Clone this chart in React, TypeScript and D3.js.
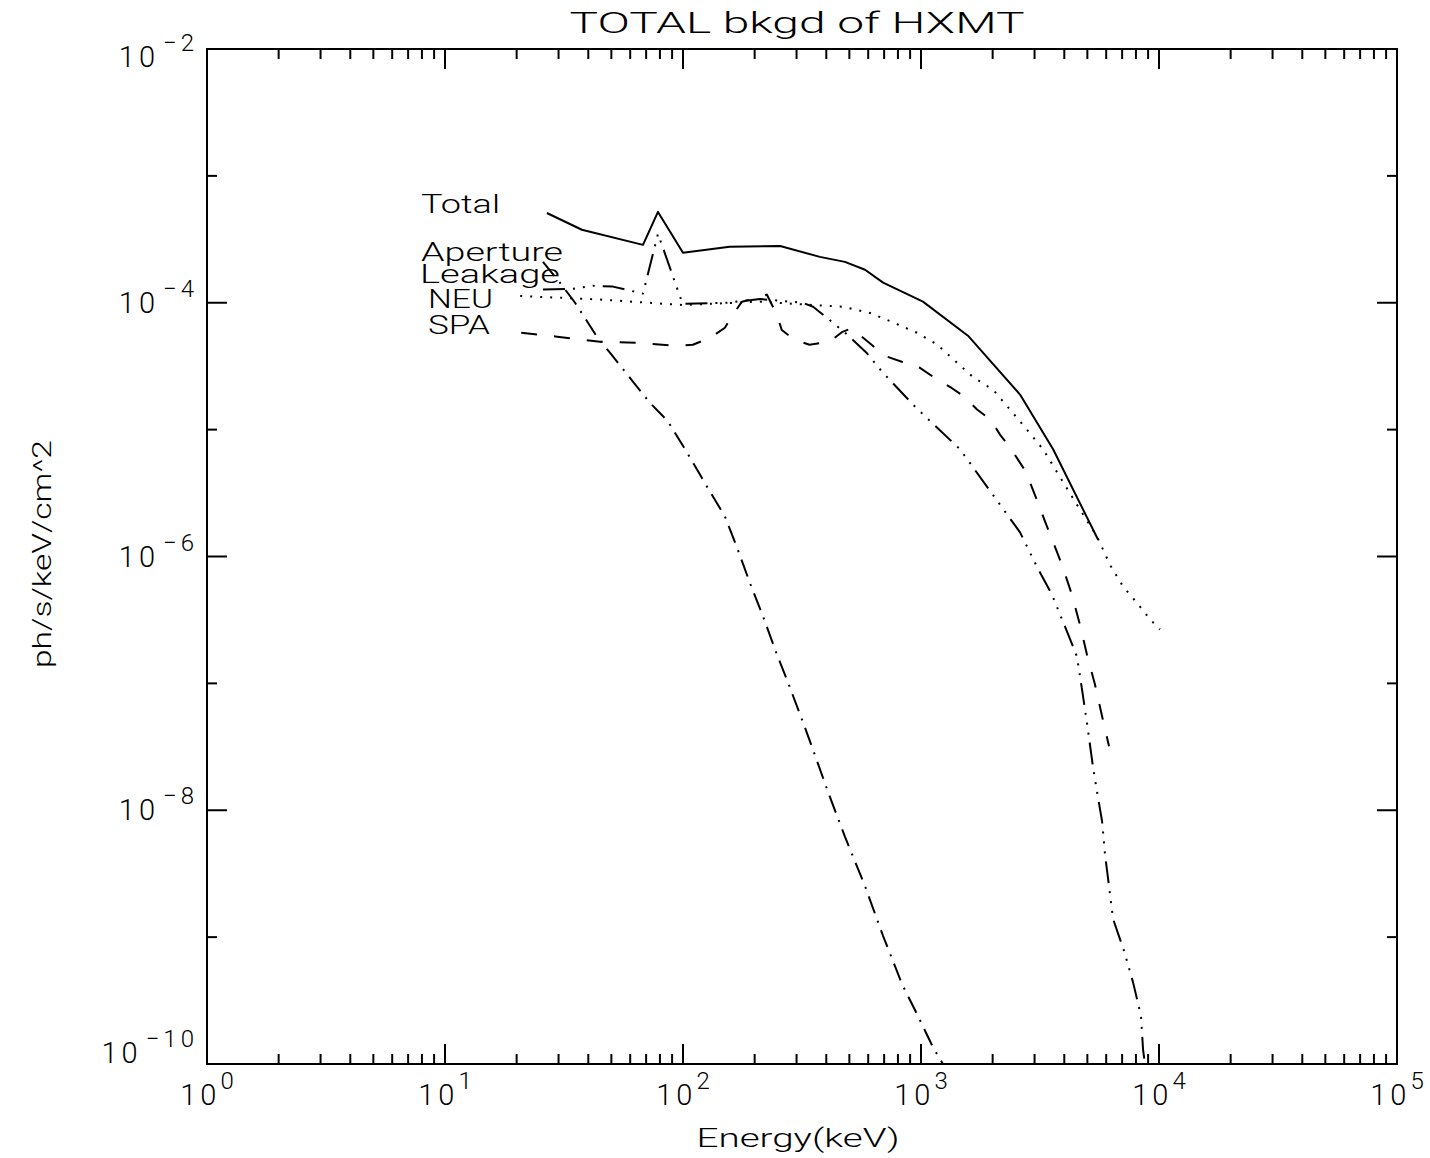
import React from "react";
import * as d3 from "d3";

// ---- data ----
const totalE = [26.8, 37.6, 67.9, 78.5, 100, 157, 256, 376, 479, 582, 693, 1019, 1575, 2607, 3590, 5543];
const totalV = [5.1e-4, 3.76e-4, 2.86e-4, 5.2e-4, 2.48e-4, 2.76e-4, 2.8e-4, 2.3e-4, 2.1e-4, 1.82e-4, 1.44e-4, 1.02e-4, 5.5e-5, 1.89e-5, 7.0e-6, 1.36e-6];

const apertureE = [25.8, 30.4, 35.2, 43.5, 49.3, 61.6, 72.6, 86.5, 104, 126, 150, 170, 191, 217, 248, 276, 316, 349, 407, 479, 582, 693, 832, 971, 1122, 1236];
const apertureV = [2.1e-4, 1.44e-4, 1.0e-4, 5.4e-5, 4.04e-5, 2.39e-5, 1.63e-5, 1.16e-5, 6.6e-6, 3.56e-6, 2.07e-6, 1.13e-6, 6.2e-7, 3.37e-7, 1.69e-7, 1.02e-7, 5.2e-8, 3.13e-8, 1.39e-8, 6.2e-9, 2.52e-9, 1.02e-9, 4.27e-10, 2.39e-10, 1.36e-10, 1.0e-10];

const leakageE = [25.8, 34.5, 41.9, 50.8, 67.9, 78.5, 99.6, 153, 211, 318, 352, 421, 480, 590, 686, 794, 943, 1112, 1459, 2148, 2607, 3041, 3550, 4029, 4520, 4746, 4980, 5280, 5543, 5765, 5930, 6166, 6412, 7130, 7780, 8400, 8570, 8730];
const leakageV = [1.27e-4, 1.29e-4, 1.36e-4, 1.34e-4, 1.18e-4, 3.5e-4, 9.8e-5, 1.0e-4, 1.07e-4, 1.0e-4, 9.3e-5, 7.1e-5, 5.8e-5, 4.04e-5, 2.86e-5, 2.14e-5, 1.52e-5, 1.13e-5, 7.0e-6, 2.56e-6, 1.55e-6, 8.6e-7, 5.0e-7, 2.8e-7, 1.63e-7, 9.0e-8, 4.9e-8, 2.2e-8, 1.26e-8, 8.2e-9, 4.5e-9, 2.52e-9, 1.39e-9, 7.8e-10, 4.4e-10, 2.4e-10, 1.3e-10, 1.0e-10];

const neuE = [20.7, 44.8, 99.6, 211, 352, 470, 610, 763, 962, 1167, 1363, 1652, 2009, 2366, 2787, 3258, 4520, 5487, 6224, 7061, 8090, 9170, 10090];
const neuV = [1.13e-4, 1.06e-4, 9.6e-5, 1.02e-4, 9.6e-5, 9.3e-5, 8.3e-5, 7.0e-5, 5.8e-5, 4.7e-5, 3.6e-5, 2.6e-5, 2.06e-5, 1.44e-5, 1.0e-5, 7.0e-6, 2.56e-6, 1.44e-6, 8.6e-7, 5.8e-7, 4.3e-7, 3.2e-7, 2.66e-7];

const spaE = [20.9, 29.6, 44.8, 64, 94, 110, 130, 150, 162, 177, 211, 225, 248, 260, 294, 340, 413, 468, 511, 620, 700, 830, 990, 1140, 1340, 1520, 1720, 1960, 2150, 2370, 2750, 3100, 3319, 3911, 4307, 4655, 4980, 5383, 5765, 6166];
const spaV = [5.8e-5, 5.4e-5, 4.93e-5, 4.84e-5, 4.58e-5, 4.67e-5, 5.3e-5, 6.35e-5, 8.05e-5, 1.02e-4, 1.11e-4, 1.16e-4, 8.05e-5, 6.1e-5, 5.1e-5, 4.67e-5, 4.93e-5, 5.9e-5, 6.3e-5, 4.67e-5, 3.83e-5, 3.43e-5, 3.07e-5, 2.56e-5, 2.14e-5, 1.82e-5, 1.44e-5, 1.2e-5, 9.1e-6, 7.2e-6, 4.7e-6, 2.66e-6, 1.89e-6, 8.6e-7, 5.0e-7, 2.9e-7, 1.69e-7, 9.8e-8, 5.5e-8, 3.2e-8];

const seriesNames = ["Total", "Aperture", "Leakage", "NEU", "SPA"];
const xDecades = [0, 1, 2, 3, 4, 5];
const yDecades = [-2, -3, -4, -5, -6, -7, -8, -9, -10];
const yLabelDecades = [-2, -4, -6, -8, -10];

const title = "TOTAL bkgd of HXMT";
const xTitle = "Energy(keV)";
const yTitle = "ph/s/keV/cm^2";

// ---- layout ----
const W = 1430, H = 1158;
const L = 207, R = 1397, T = 49, B = 1064;
const FONT = "Roboto, 'DejaVu Sans', sans-serif";

const series = [
  { name: "Total", E: totalE, V: totalV, dash: "none" },
  { name: "Aperture", E: apertureE, V: apertureV, dash: "18,8,2,8" },
  { name: "Leakage", E: leakageE, V: leakageV, dash: "22,8,2,8,2,8,2,8" },
  { name: "NEU", E: neuE, V: neuV, dash: "2,8" },
  { name: "SPA", E: spaE, V: spaV, dash: "16,17" },
];

// legend label placement (x, baseline, width)
const labelPos = {
  Total: [421, 213, 79],
  Aperture: [421, 261, 142],
  Leakage: [420, 283, 140],
  NEU: [428, 308, 65],
  SPA: [428, 334, 62],
};

export default function App() {
  const x = d3.scaleLog().domain([1, 1e5]).range([L, R]);
  const y = d3.scaleLog().domain([1e-10, 1e-2]).range([B, T]);

  const minorX: number[] = [];
  xDecades.slice(0, -1).forEach((d) => {
    for (let k = 2; k <= 9; k++) minorX.push(k * Math.pow(10, d));
  });

  return (
    <svg
      width={W}
      height={H}
      viewBox={`0 0 ${W} ${H}`}
      style={{ position: "absolute", left: 0, top: 0, background: "#fff" }}
      fontFamily={FONT}
      fontWeight={300}
    >
      <rect x={0} y={0} width={W} height={H} fill="#fff" />
      <defs>
        <clipPath id="plotclip">
          <rect x={L} y={T} width={R - L} height={B - T} />
        </clipPath>
      </defs>

      {/* title */}
      <text x={797} y={33} fontSize={30} textAnchor="middle" textLength={455} lengthAdjust="spacingAndGlyphs">
        {title}
      </text>

      {/* frame */}
      <rect x={L} y={T} width={R - L} height={B - T} fill="none" stroke="#000" strokeWidth={2} />

      {/* x ticks */}
      {xDecades.map((d) => {
        const px = x(Math.pow(10, d));
        return (
          <g key={"xm" + d}>
            <line x1={px} x2={px} y1={B} y2={B - 20} stroke="#000" strokeWidth={2} />
            <line x1={px} x2={px} y1={T} y2={T + 20} stroke="#000" strokeWidth={2} />
            <text x={px + 2} y={1105} fontSize={29} textAnchor="middle" letterSpacing={4}>
              10
              <tspan fontSize={24} dy={-16} dx={0}>{String(d)}</tspan>
            </text>
          </g>
        );
      })}
      {minorX.map((v, i) => {
        const px = x(v);
        return (
          <g key={"xn" + i}>
            <line x1={px} x2={px} y1={B} y2={B - 10} stroke="#000" strokeWidth={2} />
            <line x1={px} x2={px} y1={T} y2={T + 10} stroke="#000" strokeWidth={2} />
          </g>
        );
      })}

      {/* y ticks */}
      {yDecades.map((d) => {
        const py = y(Math.pow(10, d));
        const len = d % 2 === 0 ? 20 : 10;
        return (
          <g key={"y" + d}>
            <line x1={L} x2={L + len} y1={py} y2={py} stroke="#000" strokeWidth={2} />
            <line x1={R} x2={R - len} y1={py} y2={py} stroke="#000" strokeWidth={2} />
          </g>
        );
      })}
      {yLabelDecades.map((d) => {
        const py = y(Math.pow(10, d));
        const c = Math.max(T + 8, Math.min(B - 11, py));
        return (
          <text key={"yl" + d} x={198} y={c + 10} fontSize={29} textAnchor="end" letterSpacing={4}>
            10
            <tspan fontSize={24} dy={-16} dx={4}>{"\u2212" + String(-d)}</tspan>
          </text>
        );
      })}

      {/* axis titles */}
      <text x={798} y={1147} fontSize={26} textAnchor="middle" textLength={203} lengthAdjust="spacingAndGlyphs">
        {xTitle}
      </text>
      <text
        transform={`translate(51,554) rotate(-90)`}
        fontSize={26}
        textAnchor="middle"
        textLength={228}
        lengthAdjust="spacingAndGlyphs"
      >
        {yTitle}
      </text>

      {/* curves */}
      <g clipPath="url(#plotclip)">
        {series.map((s) => {
          const pts: [number, number][] = s.E.map((e, i) => [x(e), y(s.V[i])]);
          const path = d3.line()(pts) || "";
          return (
            <path
              key={s.name}
              d={path}
              fill="none"
              stroke="#000"
              strokeWidth={2}
              strokeDasharray={s.dash}
              strokeLinejoin="round"
            />
          );
        })}
      </g>

      {/* curve labels */}
      {seriesNames.map((n) => {
        const [lx, ly, lw] = labelPos[n];
        return (
          <text key={"lab" + n} x={lx} y={ly} fontSize={25} textLength={lw} lengthAdjust="spacingAndGlyphs">
            {n}
          </text>
        );
      })}
    </svg>
  );
}
